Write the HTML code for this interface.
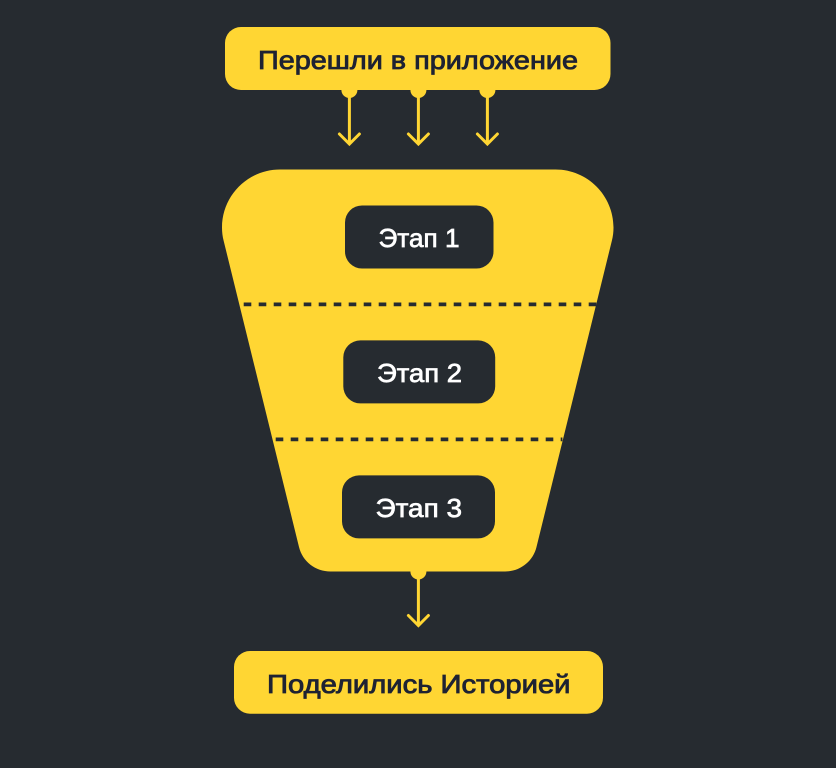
<!DOCTYPE html>
<html lang="ru">
<head>
<meta charset="utf-8">
<style>
html,body{margin:0;padding:0;background:#262B30;}
svg{display:block;}
text{font-family:"Liberation Sans",sans-serif;text-anchor:start;}
</style>
</head>
<body>
<svg width="836" height="768" viewBox="0 0 836 768" xmlns="http://www.w3.org/2000/svg">
<rect width="836" height="768" fill="#262B30"/>

<!-- top box -->
<rect x="225" y="27" width="385.5" height="63" rx="16" fill="#FFD633"/>
<text x="258" y="69" font-size="26" fill="#1E2233" stroke="#1E2233" stroke-width="0.85" textLength="320" lengthAdjust="spacingAndGlyphs">Перешли в приложение</text>

<!-- connector dots -->
<g fill="#FFD633">
<circle cx="349.4" cy="90" r="8"/>
<circle cx="418.4" cy="90" r="8"/>
<circle cx="487.4" cy="90" r="8"/>
<circle cx="418.4" cy="571.5" r="8"/>
</g>
<g fill="none" stroke="#FFD633" stroke-width="3" stroke-linecap="round" stroke-linejoin="miter">
<path d="M349.4 92V143.5M339.4 134L349.4 144L359.4 134"/>
<path d="M418.4 92V143.5M408.4 134L418.4 144L428.4 134"/>
<path d="M487.4 92V143.5M477.4 134L487.4 144L497.4 134"/>
<path d="M418.4 574V625.5M408.4 615.5L418.4 625.5L428.4 615.5"/>
</g>

<!-- funnel -->
<path d="M280 169.5H555.5C587.5 169.5 613.5 195.5 613.5 227.5C613.5 232 613 236.5 611.8 241L536.5 547C533 561.5 520 571.5 505 571.5H330.5C315.5 571.5 302.5 561.5 299 547L223.7 241C222.5 236.5 222 232 222 227.5C222 195.5 248 169.5 280 169.5Z" fill="#FFD633"/>

<!-- dashed -->
<path d="M243.7 304.4H597" stroke="#262B30" stroke-width="3.8" stroke-dasharray="7.6 7.4" fill="none"/>
<path d="M275.7 439.4H562.4" stroke="#262B30" stroke-width="3.8" stroke-dasharray="7.6 7.4" fill="none"/>

<!-- stages -->
<rect x="345" y="205.5" width="148.5" height="63" rx="17" fill="#262B30"/>
<rect x="343.3" y="340.4" width="151.9" height="63" rx="17" fill="#262B30"/>
<rect x="342" y="475.4" width="153" height="63" rx="17" fill="#262B30"/>
<g font-size="26" fill="#FFFFFF" stroke="#FFFFFF" stroke-width="0.7">
<text x="378.5" y="247" textLength="81" lengthAdjust="spacingAndGlyphs">Этап 1</text>
<text x="377" y="382" textLength="85" lengthAdjust="spacingAndGlyphs">Этап 2</text>
<text x="375.5" y="517" textLength="86.5" lengthAdjust="spacingAndGlyphs">Этап 3</text>
</g>

<!-- bottom box -->
<rect x="234" y="651" width="369" height="62.7" rx="16" fill="#FFD633"/>
<text x="267" y="693" font-size="26" fill="#1E2233" stroke="#1E2233" stroke-width="0.85" textLength="303.5" lengthAdjust="spacingAndGlyphs">Поделились Историей</text>
</svg>
</body>
</html>
